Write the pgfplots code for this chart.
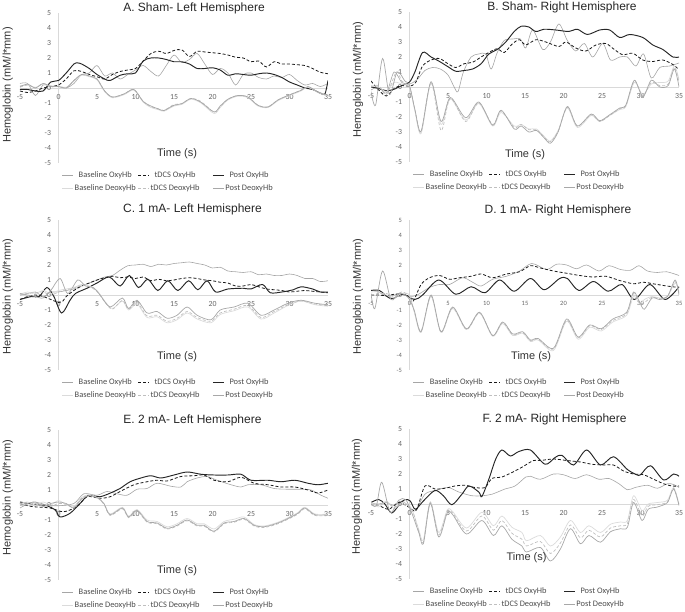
\documentclass[border=0pt]{standalone}
\usepackage{fontspec}
\setmainfont{Liberation Sans}
\newfontfamily\carlito{Carlito}
\usepackage{pgfplots}
\pgfplotsset{compat=1.18}
\pgfplotsset{
 panel/.style={
  scale only axis, width=308pt, height=150pt,
  xmin=-5, xmax=35, ymin=-5, ymax=5,
  axis lines=middle, axis line style={draw=gray!30, line width=0.6pt, -},
  xtick={-5,0,...,35}, ytick={-5,-4,...,5},
  major tick length=0pt,
  hide obscured x ticks=false, hide obscured y ticks=false,
  /pgf/number format/assume math mode=true,
  ticklabel style={font=\carlito\fontsize{7.8}{8}\selectfont, text=black!60},
  xticklabel style={anchor=north, yshift=-2.5pt},
  yticklabel style={anchor=east, xshift=-4pt},
  xlabel={Time (s)}, ylabel={Hemoglobin (mM/l*mm)},
  label style={font=\fontsize{11}{13}\selectfont, text=black!80},
  ylabel style={at={(axis description cs:-0.04,0.52)}, anchor=center, rotate=90},
  every axis title shift=0pt,
  title style={font=\fontsize{12}{14}\selectfont, anchor=base, text=black!85},
  legend columns=3,
  legend style={draw=none, fill=none, at={(axis description cs:0.48,-0.05)}, anchor=north,
    font=\carlito\fontsize{8.4}{9}\selectfont, text=black!70,
    nodes={inner sep=1pt},
    /tikz/column 2/.style={column sep=1pt}, /tikz/column 4/.style={column sep=12pt},
    row sep=4pt, inner sep=0pt},
  legend image code/.code={\draw[#1] (0pt,0pt) -- (11pt,0pt);},
  legend entries={Baseline OxyHb, tDCS OxyHb, Post OxyHb, Baseline DeoxyHb, tDCS DeoxyHb, Post DeoxyHb},
  no markers,
 },
 bo/.style={gray!70, line width=0.6pt, smooth},
 to/.style={black!90, line width=0.8pt, dash pattern=on 3pt off 2pt, smooth},
 po/.style={black!85, line width=0.95pt, smooth},
 bd/.style={gray!28, line width=0.7pt, smooth},
 td/.style={gray!50, line width=0.7pt, dash pattern=on 3pt off 2pt, smooth},
 pd/.style={gray!68, line width=0.7pt, smooth},
}
\begin{document}
\begin{tikzpicture}[x=1pt,y=1pt]
\path[use as bounding box] (0,0) rectangle (685,612);

% ---------------- A ----------------
\begin{axis}[panel, at={(20pt,449pt)}, anchor=south west,
  title={A. Sham- Left Hemisphere},
  title style={at={(axis description cs:0.565,1)}, yshift=1.5pt},
  xlabel style={at={(axis description cs:0.51,0.06)}, anchor=center}]
\addplot[bo] coordinates {(-5,0.3)(-4,0.3)(-3,-0.5)(-2,0.2)(-1,0.1)(0,0.1)(1,0.0)(2,0.3)(3,0.9)(4,1.0)(5,1.5)(6,0.8)(7,1.0)(8,0.6)(9,0.9)(10,1.2)(11,1.5)(12,1.1)(13,0.8)(14,1.5)(15,2.2)(16,1.7)(17,1.9)(18,2.3)(19,1.6)(20,0.9)(21,1.3)(22,1.0)(23,0.2)(24,0.9)(25,1.0)(26,0.7)(27,0.6)(28,0.8)(29,0.7)(30,0.9)(31,0.5)(32,0.2)(33,0.3)(34,0.1)(35,0.3)};
\addplot[to] coordinates {(-5,-0.2)(-4,-0.3)(-3,-0.2)(-2,0.0)(-1,0.1)(0,0.2)(1,0.6)(2,1.15)(3,1.1)(4,0.9)(5,0.75)(6,0.6)(7,0.9)(8,1.1)(9,1.2)(10,1.3)(11,1.8)(12,2.3)(13,2.45)(14,2.3)(15,2.5)(16,2.55)(17,2.1)(18,2.45)(19,2.4)(20,2.35)(21,2.3)(22,2.2)(23,2.05)(24,2.0)(25,1.75)(26,1.8)(27,1.4)(28,1.75)(29,1.6)(30,1.6)(31,1.55)(32,1.5)(33,1.3)(34,1.05)(35,0.95)};
\addplot[po] coordinates {(-5,-0.1)(-4,-0.1)(-3,-0.2)(-2,-0.2)(-1,0.4)(0,0.5)(1,1.0)(2,1.6)(2.5,1.67)(3,1.6)(4,1.3)(5,0.9)(6,0.6)(6.7,0.5)(8,0.85)(9,0.95)(10,1.0)(11,1.8)(12,2.0)(13,2.0)(14,1.9)(15,1.75)(16,1.75)(17,1.6)(18,1.3)(19,1.3)(20,1.35)(21,1.2)(22,0.85)(23,0.95)(24,0.9)(25,0.85)(26,0.95)(27,1.0)(28,0.9)(29,0.7)(30,0.4)(31,0.2)(32,0.0)(33,-0.1)(34,-0.35)(34.6,-0.4)(35,0.5)};
\addplot[bd] coordinates {(-5,0.15)(-4,0.2)(-3,0.05)(-2,0.25)(-1,0.15)(0,0.1)(1,0.05)(2,0.45)(3,0.85)(4,0.75)(5,0.55)(6,-0.25)(7,-0.65)(8.5,-0.45)(9.8,-0.15)(11,-0.95)(12,-1.3)(13,-1.45)(13.7,-1.55)(15,-1.2)(16,-1.1)(17.2,-0.75)(18.5,-1.0)(20.2,-1.7)(21,-1.3)(22,-0.8)(23.3,-0.55)(24.6,-0.65)(25.9,-1.2)(27.2,-1.3)(28.5,-0.85)(29.8,-0.55)(31.5,-0.2)(32.4,0.05)(33.7,-0.3)(35,-0.55)};
\addplot[td] coordinates {(-5,0.05)(-4,0.2)(-3,0.0)(-2,0.3)(-1,0.05)(0,0.15)(1,0.0)(2,0.5)(3,0.9)(4,0.8)(5,0.6)(6,-0.2)(7,-0.6)(8.5,-0.4)(9.8,-0.1)(11,-0.9)(12,-1.25)(13,-1.4)(13.7,-1.5)(15,-1.1)(16,-1.05)(17.2,-0.7)(18.5,-0.9)(20.2,-1.6)(21,-1.25)(22,-0.75)(23.3,-0.5)(24.6,-0.6)(25.9,-1.15)(27.2,-1.25)(28.5,-0.8)(29.8,-0.5)(31.5,-0.15)(32.4,0.05)(33.7,-0.25)(35,-0.5)};
\addplot[pd] coordinates {(-5,0.1)(-4,0.25)(-3,0.0)(-2,0.3)(-1,0.1)(0,0.1)(1,0.0)(2,0.5)(3,0.9)(4,0.8)(5,0.6)(6,-0.2)(7,-0.6)(8.5,-0.4)(9.8,-0.1)(11,-0.9)(12,-1.2)(13,-1.4)(13.7,-1.5)(15,-1.15)(16,-1.05)(17.2,-0.7)(18.5,-0.95)(20.2,-1.6)(21,-1.2)(22,-0.75)(23.3,-0.5)(24.6,-0.6)(25.9,-1.15)(27.2,-1.27)(28.5,-0.8)(29.8,-0.5)(31.5,-0.15)(32.4,0.1)(33.7,-0.27)(35,-0.5)};
\end{axis}

% ---------------- B ----------------
\begin{axis}[panel, at={(371pt,450pt)}, anchor=south west,
  title={B. Sham- Right Hemisphere},
  title style={at={(axis description cs:0.62,1)}, yshift=1.5pt},
  xlabel style={at={(axis description cs:0.5,0.047)}, anchor=center},
  ylabel style={at={(axis description cs:-0.042,0.55)}}]
\addplot[bo] coordinates {(-5,-0.2)(-4,0.0)(-3,-0.4)(-2,1.0)(-1,0.3)(0,0.2)(1,0.5)(2,1.1)(3,1.3)(4,1.2)(5,0.8)(5.8,0.0)(6.3,-0.3)(7,1.0)(8,2.0)(9,2.2)(9.9,2.2)(10.6,1.2)(11.4,2.3)(12.3,3.1)(13.4,3.2)(14.4,3.2)(15.1,2.6)(16,3.8)(17.3,2.5)(18.3,3.0)(19.4,4.2)(20.5,3.1)(21.6,2.4)(22.7,2.9)(23.8,2.0)(25.1,2.9)(26.1,1.8)(27.3,2.0)(28.3,2.0)(29.4,1.4)(30.4,2.2)(31.4,0.6)(32.5,1.3)(33.8,1.4)(35,1.6)};
\addplot[to] coordinates {(-5,0.4)(-4,-0.2)(-3,-0.6)(-2,-0.1)(-1,0.1)(0,0.05)(0.8,0.3)(1.7,1.4)(2.8,1.8)(3.9,1.9)(5,1.55)(6,1.3)(7.1,1.55)(8.2,1.65)(9.3,2.0)(10.3,2.3)(11.4,2.55)(12.3,2.3)(13.4,2.9)(14.3,3.15)(15.1,2.8)(16.4,3.15)(17.7,3.0)(19.4,2.7)(20.3,3.0)(21.6,2.6)(22.9,2.4)(24.2,2.8)(25.5,2.9)(26.6,2.5)(27.7,2.15)(29,2.25)(30.3,1.8)(31.6,1.7)(32.9,1.8)(34.2,1.5)(35,1.15)};
\addplot[po] coordinates {(-5,0.0)(-4,-0.1)(-3,-0.25)(-2,-0.15)(-1,0.1)(0,0.33)(0.7,1.0)(1.7,2.3)(2.8,2.0)(3.9,1.7)(5,1.35)(6,1.05)(7.1,1.1)(8.2,1.2)(9.3,1.55)(10.3,2.2)(11.4,2.5)(12.5,3.0)(13.6,3.7)(14.5,4.05)(15.5,4.0)(16.4,3.7)(17.5,3.85)(19,3.8)(20.7,3.7)(21.8,3.85)(23.1,3.5)(24.7,3.8)(26,3.8)(27.3,3.3)(28.6,3.5)(30.3,3.3)(31.6,2.8)(32.9,2.5)(34.2,2.0)(35,2.0)};
\addplot[bd] coordinates {(-5,0.1)(-4,0.0)(-3,-0.3)(-2,0.3)(-1,0.2)(0,0.0)(0.7,-1.6)(1.5,-3.1)(2.8,0.25)(4.1,-2.5)(5.3,-0.8)(7.3,-2.2)(9,-1.1)(10.8,-2.6)(11.9,-1.7)(13.6,-2.6)(14.5,-2.5)(15.5,-2.8)(16.5,-2.8)(17.5,-3.3)(18.3,-3.6)(19.3,-2.9)(20.5,-1.4)(21.8,-2.7)(23.6,-1.9)(24.7,-2.3)(26,-1.9)(27.3,-1.5)(28.1,-1.3)(29.2,0.3)(30.3,-0.5)(31.4,0.2)(32.5,0.3)(33.6,0.4)(34.4,1.4)(35,0.5)};
\addplot[td] coordinates {(-5,0.0)(-4,0.1)(-3,-0.5)(-1.7,1.0)(-1,0.4)(0,0.0)(0.7,-1.5)(1.5,-3.0)(2.8,0.3)(4.1,-2.9)(5.3,-0.75)(7.3,-2.3)(9,-1.05)(10.8,-2.5)(11.9,-1.6)(13.6,-2.7)(14.5,-2.5)(15.5,-2.85)(16.5,-2.85)(17.5,-3.35)(18.3,-3.65)(19.3,-2.95)(20.5,-1.35)(21.8,-2.6)(23.6,-1.85)(24.7,-2.3)(26,-1.9)(27.3,-1.45)(28.1,-1.25)(29.2,0.4)(30.3,-0.6)(31.4,0.3)(32.5,0.1)(33.6,0.2)(34.4,1.3)(35,0.3)};
\addplot[pd] coordinates {(-5,-0.3)(-4.4,-1.2)(-3.5,1.9)(-2.6,-0.5)(-1.6,1.0)(-0.6,0.4)(0,0.1)(0.7,-1.5)(1.5,-2.95)(2.8,0.35)(4.1,-2.3)(5.3,-0.7)(7.3,-2.05)(9,-1.0)(10.8,-2.55)(11.9,-1.55)(13.6,-2.8)(14.5,-2.6)(15.5,-3.0)(16.5,-2.9)(17.5,-3.4)(18.3,-3.75)(19.3,-3.0)(20.5,-1.3)(21.8,-2.6)(23.6,-1.8)(24.7,-2.25)(26,-1.85)(27.3,-1.4)(28.1,-1.2)(29.2,0.45)(30.3,-0.65)(31.4,0.45)(32.5,0.0)(33.6,0.1)(34.4,1.2)(35,0.0)};
\end{axis}

% ---------------- C ----------------
\begin{axis}[panel, at={(20pt,242pt)}, anchor=south west,
  title={C. 1 mA- Left Hemisphere},
  title style={at={(axis description cs:0.56,1)}, yshift=7pt},
  xlabel style={at={(axis description cs:0.51,0.087)}, anchor=center},
  ylabel style={at={(axis description cs:-0.04,0.49)}}]
\addplot[bo] coordinates {(-5,0.0)(-4,0.1)(-3,0.2)(-2,-0.1)(-1,0.2)(0,0.2)(1,0.3)(2,0.4)(3,0.6)(4,0.8)(5,1.0)(6,1.2)(7,1.3)(8,1.65)(9,1.95)(10,2.0)(11,2.05)(12,1.9)(13,2.05)(14,2.0)(15,2.1)(16,2.15)(17,2.2)(18,2.1)(19,2.0)(20,1.8)(21,1.85)(22,1.6)(23,1.55)(24,1.5)(25,1.55)(26,1.35)(27,1.4)(28,1.3)(29,1.3)(30,1.4)(31,1.3)(32,1.1)(33,1.1)(34,0.9)(35,0.95)};
\addplot[to] coordinates {(-5,-0.3)(-4,-0.1)(-3,0.0)(-2,-0.1)(-1,-0.3)(0,-0.5)(0.5,-0.45)(1,-0.1)(2,0.3)(3,0.6)(4,0.8)(5,1.0)(6,1.15)(7,1.25)(8,1.15)(9,1.2)(10,1.1)(11,1.2)(12,0.95)(13,1.05)(14,0.95)(15,1.0)(16,1.1)(17,1.15)(18,1.1)(19,1.0)(20,0.95)(21,0.85)(22,0.8)(23,0.6)(24,0.6)(25,0.7)(26,0.55)(27,0.4)(28,0.35)(29,0.3)(30,0.2)(31,0.25)(32,0.3)(33,0.25)(34,0.2)(35,0.15)};
\addplot[po] coordinates {(-5,-0.3)(-3.5,-0.1)(-2.5,-0.1)(-1.5,0.5)(-0.6,-0.1)(0.4,-1.2)(1.5,-0.35)(2.2,0.1)(3.7,0.45)(5,0.8)(6.6,1.2)(8,0.6)(9.2,1.3)(10.4,0.5)(11.6,1.05)(12.9,0.3)(14.2,0.95)(15.5,0.3)(16.9,0.95)(18.1,0.35)(19.3,0.95)(20.4,0.2)(22,0.4)(24,0.45)(25,0.4)(26.5,0.7)(27.5,0.15)(29,0.2)(30.5,0.35)(31.5,0.55)(33,0.4)(34,0.2)(35,0.2)};
\addplot[bd] coordinates {(-5,0.05)(-4,0.2)(-3,0.1)(-2,0.3)(-1,0.1)(0,0.3)(1,0.4)(2,0.5)(3,0.7)(4,0.6)(5,0.3)(6,-0.4)(7,-0.9)(8.3,-0.4)(9.1,-1.0)(10.2,-0.6)(11.5,-1.5)(12.8,-1.45)(14.1,-1.85)(15.4,-1.65)(16.7,-1.2)(18,-1.6)(19.8,-1.85)(21,-1.3)(22.8,-1.05)(24.6,-0.8)(26.3,-1.6)(28,-1.2)(29.8,-0.7)(31.5,-0.4)(33.3,-0.65)(35,-0.75)};
\addplot[td] coordinates {(-5,0.0)(-4,0.1)(-3,0.15)(-2,0.2)(-1,0.0)(0,0.2)(1,0.35)(2,0.45)(3,0.65)(4,0.55)(5,0.25)(6,-0.45)(7,-0.95)(8.3,-0.35)(9.1,-0.95)(10.2,-0.5)(11.5,-1.4)(12.8,-1.35)(14.1,-1.75)(15.4,-1.55)(16.7,-1.1)(18,-1.5)(19.8,-1.75)(21,-1.2)(22.8,-0.95)(24.6,-0.7)(26.3,-1.5)(28,-1.1)(29.8,-0.65)(31.5,-0.4)(33.3,-0.6)(35,-0.7)};
\addplot[pd] coordinates {(-5,0.1)(-4,0.0)(-3,-0.1)(-2,-0.2)(-1,0.3)(0.2,1.1)(1.2,0.1)(2.5,1.0)(3.5,0.6)(4.5,0.5)(5.4,0.0)(6.7,-0.8)(8.3,-0.2)(9.1,-0.9)(10.2,-0.35)(11.5,-1.2)(12.8,-1.1)(14.1,-1.55)(15.4,-1.35)(16.7,-0.8)(18,-1.35)(19.8,-1.65)(21,-1.0)(22.8,-0.8)(24.6,-0.55)(26.3,-1.35)(28,-1.0)(29.8,-0.55)(31.5,-0.35)(33.3,-0.55)(35,-0.65)};
\end{axis}

% ---------------- D ----------------
\begin{axis}[panel, at={(371pt,242pt)}, anchor=south west,
  title={D. 1 mA- Right Hemisphere},
  title style={at={(axis description cs:0.607,1)}, yshift=6pt},
  xlabel style={at={(axis description cs:0.52,0.087)}, anchor=center},
  ylabel style={at={(axis description cs:-0.042,0.49)}},
  ticklabel style={font=\carlito\fontsize{6.5}{7}\selectfont}]
\addplot[bo] coordinates {(-5,0.3)(-4,0.2)(-3,-0.1)(-2,0.0)(-1,0.1)(0,-0.1)(1,0.0)(2.6,0.5)(3.9,0.7)(5.2,0.7)(6.9,1.15)(8.2,0.85)(9.3,0.6)(10.8,1.05)(12.6,1.25)(14.3,1.6)(15.9,2.1)(17.8,1.7)(19.1,2.05)(20.4,2.0)(21.7,1.75)(23,2.0)(24.6,1.6)(25.9,1.95)(27.4,1.7)(28.7,1.65)(29.8,1.95)(30.9,1.6)(32.2,1.5)(33.4,1.55)(35,1.3)};
\addplot[to] coordinates {(-5,0.0)(-4,0.0)(-3,-0.05)(-2,0.05)(-1,0.05)(0,-0.1)(0.5,-0.4)(1.5,0.7)(2.6,1.15)(3.9,1.3)(5.2,1.05)(6.5,1.15)(8,1.25)(9.3,1.4)(10.8,1.15)(12.6,1.4)(14.3,1.55)(15.7,1.95)(17,1.8)(18.7,1.6)(20.4,1.45)(22.1,1.3)(23.8,1.2)(25.5,1.25)(27.4,0.95)(29.1,0.75)(30.4,0.85)(31.6,0.75)(33.4,0.6)(35,0.5)};
\addplot[po] coordinates {(-5,0.3)(-3.9,0.3)(-2.4,-0.25)(-0.9,0.05)(0.65,-0.3)(1.7,0.0)(3.8,1.0)(6,0.05)(8,0.55)(9.8,0.15)(11.7,1.0)(13.6,0.25)(15.7,1.1)(17.5,0.35)(19.5,1.1)(20.5,1.1)(22,0.3)(23.9,0.9)(25.8,0.25)(27.6,0.7)(29.2,-0.3)(31.2,0.7)(33.2,-0.3)(35,0.55)};
\addplot[bd] coordinates {(-5,0.2)(-4,0.2)(-3,0.0)(-2,-0.2)(-1,0.1)(0,0.0)(0.6,-1.1)(1.5,-2.5)(2.8,-0.1)(4.1,-2.5)(5.6,-0.9)(7.4,-2.3)(9.1,-1.2)(10.8,-2.75)(12.1,-1.9)(13.4,-2.7)(14.7,-2.55)(15.7,-3.1)(16.7,-3.0)(18.7,-3.7)(20.4,-1.75)(21.9,-2.95)(23.4,-2.15)(24.9,-2.4)(26.4,-1.8)(28.2,-1.35)(29.1,-0.1)(29.9,-0.6)(30.5,-0.3)(31.5,-0.1)(32.5,-0.2)(33.5,-0.1)(34.5,0.8)(35,0.2)};
\addplot[td] coordinates {(-5,0.0)(-4,0.1)(-3,0.1)(-2,-0.1)(-1,0.2)(0,-0.1)(0.6,-1.05)(1.5,-2.4)(2.8,-0.05)(4.1,-2.5)(5.6,-0.85)(7.4,-2.3)(9.1,-1.2)(10.8,-2.7)(12.1,-1.85)(13.4,-2.65)(14.7,-2.5)(15.7,-3.05)(16.7,-2.95)(18.7,-3.6)(20.4,-1.7)(21.9,-2.85)(23.4,-2.05)(24.9,-2.3)(26.4,-1.7)(28.2,-1.25)(29.1,0.1)(29.9,-0.55)(30.5,-0.5)(31.5,-0.15)(32.5,-0.25)(33.5,-0.1)(34.5,0.9)(35,0.1)};
\addplot[pd] coordinates {(-5,0.1)(-4.5,-0.9)(-3.5,1.6)(-2.4,-0.3)(-1.3,0.1)(-0.2,-0.15)(0.6,-1.0)(1.5,-2.45)(2.8,0.0)(4.1,-2.45)(5.6,-0.8)(7.4,-2.25)(9.1,-1.15)(10.8,-2.7)(12.1,-1.8)(13.4,-2.6)(14.7,-2.45)(15.7,-3.0)(16.7,-2.9)(18.7,-3.55)(20.4,-1.6)(21.9,-2.8)(23.4,-2.0)(24.9,-2.25)(26.4,-1.6)(28.2,-1.15)(29.1,0.2)(29.9,-0.5)(30.5,-0.95)(31.5,-0.2)(32.5,-0.3)(33.5,-0.1)(34.5,1.0)(35,0.0)};
\end{axis}

% ---------------- E ----------------
\begin{axis}[panel, at={(20pt,32pt)}, anchor=south west,
  title={E. 2 mA- Left Hemisphere},
  title style={at={(axis description cs:0.56,1)}, yshift=7pt},
  xlabel style={at={(axis description cs:0.51,0.06)}, anchor=center},
  ylabel style={at={(axis description cs:-0.04,0.55)}}]
\addplot[bo] coordinates {(-5,-0.2)(-3.3,0.2)(-1.5,0.0)(0,-0.05)(2,0.1)(3.3,0.75)(5,0.65)(6.3,0.9)(7.6,0.75)(8.9,0.65)(10.2,1.05)(11.5,1.1)(12.8,1.45)(14.6,1.25)(15.9,1.2)(16.7,1.55)(18,1.8)(19.3,1.9)(20.6,1.65)(22.4,1.35)(23.7,1.2)(24.6,1.35)(26.3,1.35)(28,1.1)(29.8,1.05)(31.5,1.05)(32.8,1.0)(34.1,0.65)(35,0.45)};
\addplot[to] coordinates {(-5,0.1)(-3.5,-0.1)(-1.1,-0.2)(0.65,-0.45)(2.4,-0.1)(3.7,0.55)(5.4,0.45)(6.7,0.55)(8,0.9)(9.8,1.35)(11.5,1.55)(12.8,1.65)(14.1,1.6)(15.9,1.9)(17.6,1.95)(18.9,2.0)(20.2,1.65)(22,1.55)(23.7,1.85)(25.4,1.45)(27.2,1.35)(28.9,1.2)(30.7,1.2)(32.4,1.0)(33.7,0.8)(35,1.0)};
\addplot[po] coordinates {(-5,0.2)(-3.3,0.05)(-1.5,-0.05)(-0.4,-0.35)(0.2,-0.8)(1.5,-0.55)(2.8,0.1)(3.9,0.65)(5.4,0.55)(7.2,0.9)(8,1.1)(9.3,1.55)(10.7,1.8)(12,1.95)(13.3,1.8)(15,2.0)(16.7,2.2)(18.5,2.05)(20.2,2.0)(22,2.0)(23.7,2.05)(25,1.65)(27.2,1.65)(28.9,1.55)(30.7,1.65)(32.4,1.45)(33.7,1.35)(35,1.45)};
\addplot[bd] coordinates {(-5,0.1)(-4,0.2)(-3,0.0)(-2,0.2)(-1,0.0)(0,0.3)(1,0.0)(2,-0.1)(3,0.5)(4,0.7)(5,0.5)(5.9,0.1)(6.7,-0.6)(8.3,-0.15)(9.1,-0.75)(10.2,-0.3)(11.5,-1.0)(12.8,-1.1)(14.1,-1.45)(15.4,-1.25)(16.7,-0.9)(18,-1.25)(18.9,-1.25)(20.2,-1.6)(21.5,-1.1)(22.8,-0.95)(24.1,-0.8)(25.4,-1.3)(26.7,-1.4)(28.5,-1.15)(30.2,-0.75)(31.1,-0.5)(32,-0.15)(33.3,-0.6)(35,-0.6)};
\addplot[td] coordinates {(-5,0.0)(-4,0.0)(-3,0.1)(-2,0.0)(-1,-0.1)(0,0.1)(1,0.05)(2,-0.15)(3,0.45)(4,0.65)(5,0.5)(5.9,0.05)(6.7,-0.7)(8.3,-0.25)(9.1,-0.85)(10.2,-0.4)(11.5,-1.15)(12.8,-1.25)(14.1,-1.6)(15.4,-1.4)(16.7,-1.05)(18,-1.4)(18.9,-1.4)(20.2,-1.8)(21.5,-1.25)(22.8,-1.15)(24.1,-0.95)(25.4,-1.4)(26.7,-1.5)(28.5,-1.25)(30.2,-0.85)(31.1,-0.6)(32,-0.25)(33.3,-0.7)(35,-0.7)};
\addplot[pd] coordinates {(-5,0.0)(-4,0.1)(-3,0.2)(-2,-0.1)(-1,0.1)(0,0.2)(1,0.1)(2,-0.2)(3,0.4)(4,0.6)(5,0.5)(5.9,0.1)(6.7,-0.65)(8.3,-0.2)(9.1,-0.8)(10.2,-0.35)(11.5,-1.1)(12.8,-1.2)(14.1,-1.55)(15.4,-1.35)(16.7,-1.0)(18,-1.35)(18.9,-1.35)(20.2,-1.75)(21.5,-1.2)(22.8,-1.1)(24.1,-0.9)(25.4,-1.35)(26.7,-1.45)(28.5,-1.2)(30.2,-0.8)(31.1,-0.55)(32,-0.2)(33.3,-0.65)(35,-0.65)};
\end{axis}

% ---------------- F ----------------
\begin{axis}[panel, at={(371pt,33pt)}, anchor=south west,
  title={F. 2 mA- Right Hemisphere},
  title style={at={(axis description cs:0.596,1)}, yshift=6.5pt},
  xlabel style={at={(axis description cs:0.505,0.14)}, anchor=center},
  ylabel style={at={(axis description cs:-0.045,0.55)}}]
\addplot[bo] coordinates {(-5,0.05)(-4,0.0)(-3,0.1)(-2,-0.1)(-1,0.2)(0,-0.2)(0.75,-0.45)(2,0.65)(3.3,0.9)(5,1.1)(6.4,0.8)(8.1,0.55)(9.4,0.55)(10.7,0.65)(12.4,1.0)(13.7,1.2)(15.1,1.8)(15.7,1.85)(17,1.65)(18.7,2.0)(20,1.95)(21.5,1.7)(23,1.95)(24.6,1.65)(25.9,1.7)(27.2,1.35)(28.3,0.95)(29.3,1.1)(30.9,1.25)(32.2,1.05)(33.5,1.35)(34.3,1.3)(35,1.1)};
\addplot[to] coordinates {(-5,-0.05)(-4,-0.1)(-2.7,-0.35)(-1.4,0.1)(-0.1,-0.2)(0.9,-0.4)(2.0,1.2)(3.3,1.0)(4.6,1.05)(5.9,1.2)(7.2,1.25)(8.5,1.1)(9.8,1.1)(10.7,1.7)(12,1.8)(13.3,2.1)(14.6,2.45)(16.1,2.9)(17,2.9)(18.7,3.0)(20.4,2.9)(22.2,2.8)(23.7,2.65)(25.2,2.6)(26.5,2.6)(27.8,2.2)(29.1,2.0)(30.4,1.95)(31.7,1.65)(33,1.35)(34.1,1.2)(35,1.2)};
\addplot[po] coordinates {(-5,0.1)(-4,0.3)(-3.2,0.0)(-2.3,-0.6)(-1.2,0.05)(-0.55,0.3)(0.1,0.2)(0.75,-0.35)(1.8,0.2)(3.3,0.9)(4.4,0.55)(5.5,-0.05)(6.8,0.65)(7.7,1.2)(9,0.8)(9.4,0.5)(10.3,1.65)(11.2,3.0)(12.0,3.6)(13.1,3.2)(14.2,3.5)(15.7,3.6)(17.6,2.65)(18.9,3.1)(19.8,3.25)(21.3,2.6)(23,3.6)(24.8,2.6)(26.5,3.15)(28.3,2.3)(29.5,1.95)(30,1.95)(31.3,2.55)(33,1.6)(34.3,2.0)(35,1.85)};
\addplot[bd] coordinates {(-5,0.1)(-4,-0.2)(-3,0.2)(-2,-0.3)(-1,0.1)(0,-0.1)(0.5,-0.6)(1.2,-1.7)(1.8,-2.4)(2.7,0.15)(3.8,-1.9)(4.9,-0.4)(5.6,-0.5)(7.4,-1.6)(9.4,-0.55)(10.9,-1.45)(12,-0.8)(13.3,-1.55)(14.6,-1.9)(15.2,-2.45)(17,-2.1)(18.3,-2.8)(19.6,-2.2)(20.9,-1.1)(22.2,-1.9)(23.3,-1.45)(24.8,-1.9)(26.1,-1.35)(27.4,-1.2)(28.3,-1.1)(29.1,0.55)(30.2,-0.45)(31,0.0)(32.2,0.1)(33.5,0.25)(34.3,1.1)(35,0.0)};
\addplot[td] coordinates {(-5,0.0)(-4,-0.1)(-3,0.1)(-2,-0.2)(-1,0.0)(0,-0.2)(0.5,-0.6)(1.2,-1.8)(1.8,-2.55)(2.7,0.1)(3.8,-2.05)(4.9,-0.5)(5.6,-0.6)(7.4,-1.8)(9.4,-0.8)(10.9,-1.75)(12,-1.1)(13.3,-1.95)(14.6,-2.35)(15.2,-2.8)(17,-2.5)(18.3,-3.3)(19.6,-2.6)(20.9,-1.4)(22.2,-2.25)(23.3,-1.75)(24.8,-2.2)(26.1,-1.6)(27.4,-1.45)(28.3,-1.3)(29.1,0.3)(30.2,-0.8)(31,-0.15)(32.2,-0.05)(33.5,0.15)(34.3,1.05)(35,-0.05)};
\addplot[pd] coordinates {(-5,0.0)(-4.3,-0.1)(-3.6,1.45)(-2.5,-0.55)(-1.4,0.25)(-0.5,0.3)(0.3,-0.6)(1.2,-1.9)(1.8,-2.65)(2.7,0.05)(3.8,-2.2)(4.9,-0.6)(5.6,-0.7)(7.4,-2.0)(9.4,-1.1)(10.9,-2.1)(12,-1.45)(13.3,-2.35)(14.6,-2.8)(15.2,-3.2)(17,-2.9)(18.3,-3.8)(19.6,-3.0)(20.9,-1.65)(22.2,-2.65)(23.3,-2.1)(24.8,-2.55)(26.1,-1.85)(27.4,-1.65)(28.3,-1.55)(29.1,0.1)(30.2,-1.1)(31,-0.35)(32.2,-0.2)(33.5,0.1)(34.3,1.0)(35,-0.1)};
\end{axis}
\end{tikzpicture}
\end{document}
